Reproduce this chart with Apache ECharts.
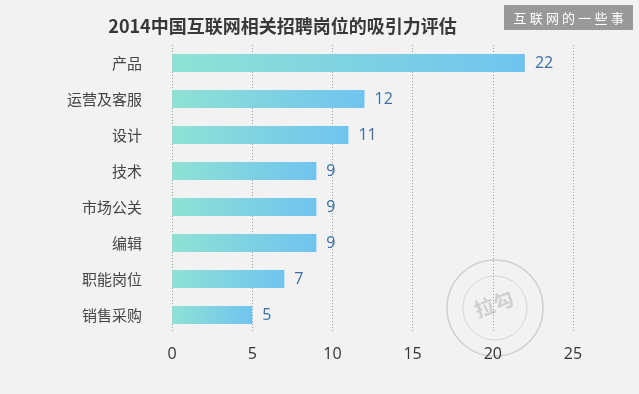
<!DOCTYPE html>
<html>
<head>
<meta charset="utf-8">
<script src="https://cdn.jsdelivr.net/npm/echarts@6/dist/echarts.min.js"></script>
<style>
html,body{margin:0;padding:0;background:#f2f2f2;}
#main{width:639px;height:394px;}
</style>
</head>
<body>
<div id="main"></div>
<script>
const titleText = '2014中国互联网相关招聘岗位的吸引力评估';
const badgeText = '互联网的一些事';
const categories = ['产品', '运营及客服', '设计', '技术', '市场公关', '编辑', '职能岗位', '销售采购'];
const values = [22, 12, 11, 9, 9, 9, 7, 5];
const xTicks = [0, 5, 10, 15, 20, 25];

const badgeChars = badgeText.split('').map(function (ch, i) {
  return {type: 'text', x: 520 + i * 16.2, y: 18.5,
    style: {text: ch, fill: '#ffffff', font: '13px "Noto Sans CJK SC"', align: 'center', verticalAlign: 'middle'}};
});

const chart = echarts.init(document.getElementById('main'));
chart.setOption({
  backgroundColor: '#f2f2f2',
  animation: false,
  title: {
    text: titleText,
    left: 277.5, top: 12, textAlign: 'center',
    textStyle: {fontFamily: 'Noto Sans CJK SC', fontSize: 18, fontWeight: 'bold', color: '#383838'}
  },
  graphic: [
    {type: 'rect', shape: {x: 504, y: 5, width: 129, height: 25}, style: {fill: '#999999'}},
    {type: 'circle', shape: {cx: 495, cy: 308, r: 48}, style: {fill: 'none', stroke: '#d0d0d0', lineWidth: 1.5}, z: -1},
    {type: 'circle', shape: {cx: 495, cy: 308, r: 32}, style: {fill: 'none', stroke: '#d6d6d6', lineWidth: 1}, z: -1},
    {type: 'text', x: 494, y: 304, rotation: 0.35, style: {text: '拉勾', fill: '#cfcfcf', font: 'bold 20px "Noto Sans CJK SC"', align: 'center', verticalAlign: 'middle'}, z: -1}
  ].concat(badgeChars),
  grid: {left: 172, right: 66, top: 45, bottom: 61},
  xAxis: {
    type: 'value', min: xTicks[0], max: xTicks[xTicks.length - 1], interval: 5,
    axisLine: {show: false}, axisTick: {show: false},
    axisLabel: {margin: 13, fontSize: 16, color: '#333', fontFamily: 'Open Sans'},
    splitLine: {show: true, lineStyle: {type: [1, 2], color: '#9a9a9a', width: 1}}
  },
  yAxis: {
    type: 'category', data: categories, inverse: true,
    axisLine: {show: false}, axisTick: {show: false},
    axisLabel: {margin: 30, fontSize: 15, color: '#444', fontFamily: 'Noto Sans CJK SC'}
  },
  series: [{
    type: 'bar', data: values, barWidth: 18,
    itemStyle: {
      color: new echarts.graphic.LinearGradient(0, 0, 1, 0, [
        {offset: 0, color: '#8ee2d4'},
        {offset: 1, color: '#70c3ef'}
      ])
    },
    label: {show: true, position: 'right', distance: 10, fontSize: 16, color: '#3a6ea3', fontFamily: 'Open Sans'}
  }]
});
</script>
</body>
</html>
